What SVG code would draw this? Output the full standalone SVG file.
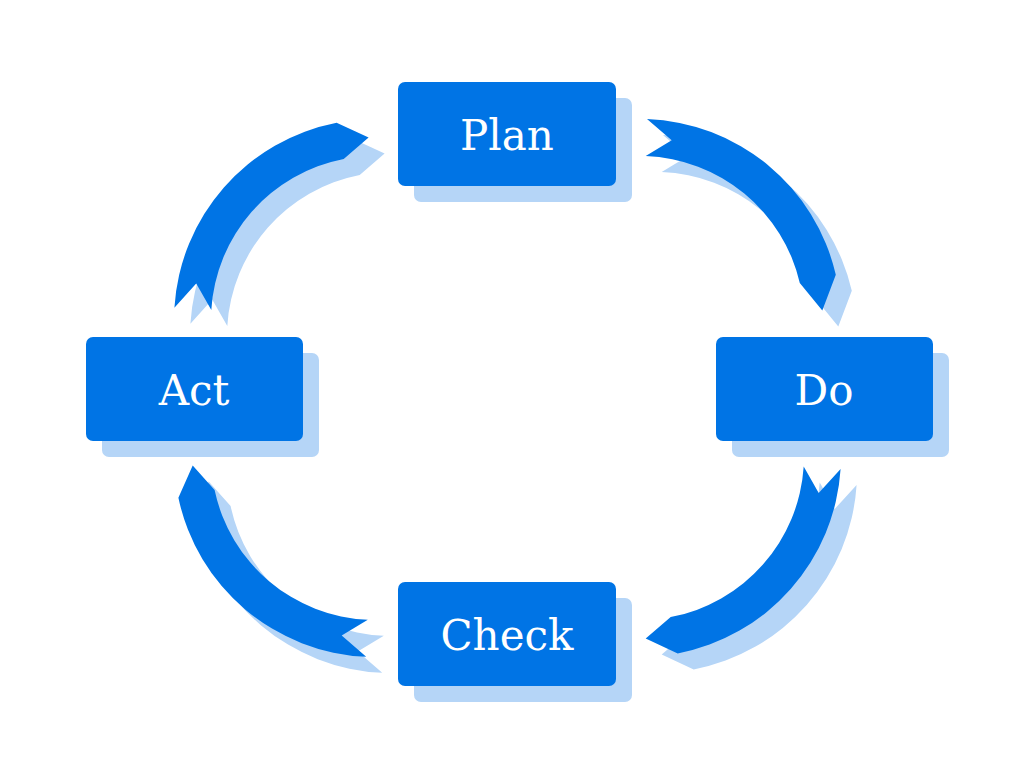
<svg xmlns="http://www.w3.org/2000/svg" xmlns:xlink="http://www.w3.org/1999/xlink" width="1015" height="768" viewBox="0 0 1015 768">
<style>
.box{fill:#0074E5}
.sh{fill:#B5D5F7}
.arr{fill:#0074E5}
.lbl{fill:#FFFFFF;font-family:"DejaVu Serif","Liberation Serif",serif;font-size:42px;text-anchor:middle}
</style>
<defs>
<path id="a1" d="M647,119.1 A201,201 0 0 1 835.8,274.8 L822.3,310.4 L799.8,283.1 A164,164 0 0 0 645.7,156.1 L671.7,140.3 Z"/>
<path id="a2" d="M840.6,469 A201,201 0 0 1 677.7,653.4 L645.7,638.4 L670.7,617.1 A164,164 0 0 0 803.7,466.6 L818.7,493 Z"/>
<path id="a3" d="M366.2,656.8 A201,201 0 0 1 178.4,497.8 L192.7,465.6 L214.6,490.1 A164,164 0 0 0 367.8,619.8 L341.7,635.4 Z"/>
<path id="a4" d="M174.4,307.7 A201,201 0 0 1 336.6,122.7 L368.6,137.6 L343.7,159 A164,164 0 0 0 211.3,310 L196.2,283.6 Z"/>
</defs>
<rect width="1015" height="768" fill="#FFFFFF"/>
<g id="connectors">
<use xlink:href="#a1" class="sh" transform="translate(16,16)"/>
<use xlink:href="#a2" class="sh" transform="translate(16,16)"/>
<use xlink:href="#a3" class="sh" transform="translate(16,16)"/>
<use xlink:href="#a4" class="sh" transform="translate(16,16)"/>
<use xlink:href="#a1" class="arr"/>
<use xlink:href="#a2" class="arr"/>
<use xlink:href="#a3" class="arr"/>
<use xlink:href="#a4" class="arr"/>
</g>
<g id="plan">
<rect class="sh" x="414" y="98" width="218" height="104" rx="7"/>
<rect class="box" x="398" y="82" width="218" height="104" rx="7"/>
<text class="lbl" x="507" y="150">Plan</text>
</g>
<g id="do">
<rect class="sh" x="732" y="353" width="217" height="104" rx="7"/>
<rect class="box" x="716" y="337" width="217" height="104" rx="7"/>
<text class="lbl" x="824" y="405">Do</text>
</g>
<g id="check">
<rect class="sh" x="414" y="598" width="218" height="104" rx="7"/>
<rect class="box" x="398" y="582" width="218" height="104" rx="7"/>
<text class="lbl" x="507" y="650">Check</text>
</g>
<g id="act">
<rect class="sh" x="102" y="353" width="217" height="104" rx="7"/>
<rect class="box" x="86" y="337" width="217" height="104" rx="7"/>
<text class="lbl" x="194" y="405">Act</text>
</g>
</svg>
